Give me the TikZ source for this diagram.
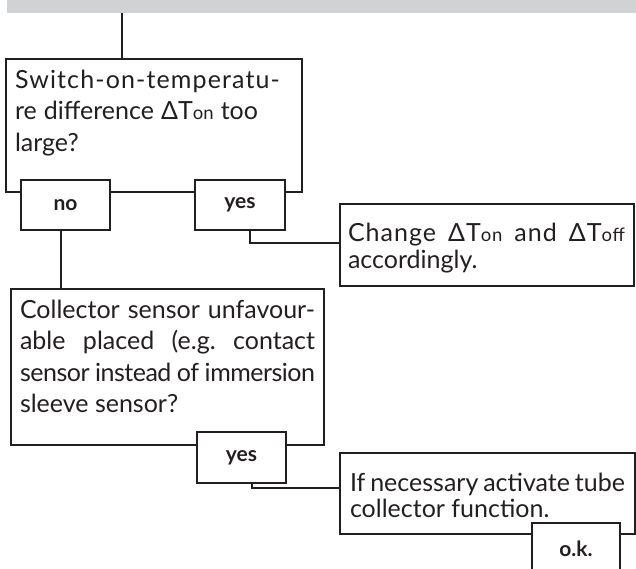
\documentclass[tikz,border=0pt]{standalone}
\usepackage{fontspec}
\setmainfont{Lato}
\newfontfamily\latowide{Lato}[LetterSpace=4]
\newfontfamily\latonarrow{Lato}[LetterSpace=-2]
\usetikzlibrary{calc}
\definecolor{bargrey}{HTML}{D1D2D4}
\definecolor{ink}{HTML}{231F20}
\newcommand\bodysize{\fontsize{25}{31.5}\selectfont}
\newcommand\smallpart[1]{{\fontsize{18.5}{20}\selectfont #1}}
\begin{document}
\begin{tikzpicture}[x=1pt,y=-1pt,line width=1.8pt,draw=ink,
  box/.style={draw=ink,rectangle,anchor=north west,inner sep=0pt,outer sep=0pt},
  lbl/.style={box,fill=white,text=ink,font=\fontsize{21}{24}\selectfont\bfseries},
  txt/.style={anchor=base west,inner sep=0pt,outer sep=0pt,text=ink,font=\bodysize},
  conn/.style={draw=ink,line width=1.8pt}]
\useasboundingbox (0,0) rectangle (636,568);
\clip (0,0) rectangle (636,568);
% top bar
\node[anchor=north west,fill=bargrey,inner sep=0pt,outer sep=0pt,minimum width=629pt,minimum height=13pt] (bar) at (7,0) {};
% boxes
\node[box,minimum width=296pt,minimum height=133pt] (box1) at (6,59) {};
\node[box,minimum width=294pt,minimum height=82pt] (box3) at (340,204) {};
\node[box,minimum width=313pt,minimum height=156pt] (box2) at (11,289) {};
\node[box,minimum width=295pt,minimum height=81pt] (box4) at (340,453) {};
% answer labels
\node[lbl,minimum width=89pt,minimum height=50pt] (no1) at (21,180) {no};
\node[lbl,minimum width=90pt,minimum height=50pt] (yes1) at (195,180) {yes};
\node[lbl,minimum width=89pt,minimum height=51pt] (yes2) at (197,432) {yes};
\node[lbl,minimum width=88pt,minimum height=52pt] (ok) at (532,523) {o.k.};
% texts
\node[txt] (t1) at ($(box1.north west)+(9,29)$) {\parbox[t]{285pt}{\bodysize
  {\addfontfeature{LetterSpace=4.5}Switch-on-temperatu-}\\
  \makebox[243pt][s]{re difference ΔT\smallpart{on} too}\\
  large?}};
\node[txt] (t3) at ($(box3.north west)+(8,37)$) {\parbox[t]{285pt}{\fontsize{25}{27.5}\selectfont
  {\latowide\makebox[277pt][s]{Change ΔT\smallpart{on} and ΔT\smallpart{off}}}\\
  accordingly.}};
\node[txt] (t2) at ($(box2.north west)+(9,29)$) {\parbox[t]{300pt}{\bodysize
  \makebox[295pt][s]{Collector sensor unfavour-}\\
  \makebox[295pt][s]{able placed (e.g.\ contact}\\
  {\latonarrow\makebox[295pt][s]{sensor instead of immersion}}\\
  sleeve sensor?}};
\node[txt] (t4) at ($(box4.north west)+(10,38)$) {\parbox[t]{285pt}{\fontsize{25}{26}\selectfont
  \makebox[275pt][s]{If necessary activate tube}\\
  collector function.}};
% connectors
\coordinate (c0) at (122,13);
\draw[conn] (c0) -- (c0 |- box1.north);
\draw[conn] ([xshift=-4.5pt]no1.south) -- ([xshift=-4.5pt]no1.south |- box2.north);
\draw[conn] ([xshift=10pt]yes1.south) |- ([yshift=2pt]box3.west);
\draw[conn] ([xshift=10.5pt]yes2.south) |- ([yshift=5.5pt]box4.west);
\end{tikzpicture}
\end{document}
